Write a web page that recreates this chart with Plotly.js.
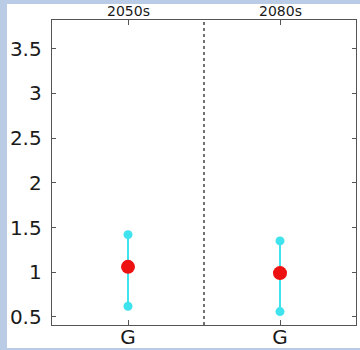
<!DOCTYPE html>
<html>
<head>
<meta charset="utf-8">
<script src="https://cdn.plot.ly/plotly-3.0.1.min.js"></script>
<style>
html,body{margin:0;padding:0;background:#fff;}
#wrap{position:relative;width:360px;height:350px;overflow:hidden;}
#chart{position:absolute;left:0;top:0;width:360px;height:350px;}
.strip{position:absolute;background:#b9cbe5;pointer-events:none;}
</style>
</head>
<body>
<div id="wrap">
<div id="chart"></div>
<div class="strip" style="left:0;top:0;width:7px;height:350px;"></div>
<div class="strip" style="left:0;top:0;width:360px;height:4px;"></div>
<div class="strip" style="left:0;top:348px;width:360px;height:2px;"></div>
</div>
<script>
var categories = ["G"];
var periods = ["2050s", "2080s"];
var lowVals = [0.62, 0.56];
var meanVals = [1.06, 0.99];
var highVals = [1.42, 1.35];
var yTicks = [0.5, 1, 1.5, 2, 2.5, 3, 3.5];
var yTickText = ["0.5", "1", "1.5", "2", "2.5", "3", "3.5"];

var cyan = "#3fe3ee";
var red = "#ee1111";
var axisColor = "#555555";
var fontFam = "'DejaVu Sans', Arial, Helvetica, sans-serif";

var traces = [];
periods.forEach(function(p, i) {
  var xa = i === 0 ? "x" : "x2";
  var ya = i === 0 ? "y" : "y2";
  traces.push({
    x: [categories[0], categories[0]],
    y: [lowVals[i], highVals[i]],
    xaxis: xa, yaxis: ya,
    mode: "lines+markers",
    line: {color: cyan, width: 2},
    marker: {color: cyan, size: 9},
    showlegend: false, hoverinfo: "skip"
  });
  traces.push({
    x: [categories[0]],
    y: [meanVals[i]],
    xaxis: xa, yaxis: ya,
    mode: "markers",
    marker: {color: red, size: 14},
    showlegend: false, hoverinfo: "skip"
  });
});

var yRange = [0.41, 3.82];
function xAxis(domain, anchor) {
  return {
    domain: domain, anchor: anchor, type: "category",
    range: [-0.5, 0.5],
    showline: true, linecolor: axisColor, linewidth: 1.3, mirror: "ticks",
    ticks: "inside", ticklen: 5, tickcolor: axisColor, tickwidth: 1,
    showgrid: false, zeroline: false,
    ticklabelstandoff: -6,
    tickfont: {family: fontFam, size: 20, color: "#1a1a1a"}
  };
}
var layout = {
  width: 360, height: 350,
  margin: {l: 52, r: 4, t: 20, b: 25, pad: 0},
  paper_bgcolor: "rgba(0,0,0,0)",
  plot_bgcolor: "#ffffff",
  xaxis: xAxis([0, 0.5], "y"),
  xaxis2: xAxis([0.5, 1], "y2"),
  yaxis: {
    domain: [0, 1], anchor: "x", range: yRange,
    tickvals: yTicks, ticktext: yTickText,
    showline: true, linecolor: axisColor, linewidth: 1.3, mirror: false,
    ticks: "inside", ticklen: 4, tickcolor: axisColor,
    showgrid: false, zeroline: false,
    tickfont: {family: fontFam, size: 20, color: "#1a1a1a"},
    ticklabelstandoff: 5
  },
  yaxis2: {
    domain: [0, 1], anchor: "x2", side: "right", range: yRange,
    tickvals: yTicks,
    showline: true, linecolor: axisColor, linewidth: 1.3, mirror: false,
    ticks: "inside", ticklen: 4, tickcolor: axisColor,
    showticklabels: false,
    showgrid: false, zeroline: false
  },
  shapes: [{
    type: "line", xref: "paper", yref: "paper",
    x0: 0.5, x1: 0.5, y0: 0, y1: 1,
    line: {color: "#444444", width: 1.5, dash: "dot"}
  }],
  annotations: periods.map(function(p, i) {
    return {
      text: p, xref: "x" + (i === 0 ? "" : "2") + " domain", yref: "paper",
      x: 0.5, y: 1, xanchor: "center", yanchor: "bottom", yshift: -1,
      showarrow: false,
      font: {family: fontFam, size: 14, color: "#1a1a1a"}
    };
  })
};
Plotly.newPlot("chart", traces, layout, {staticPlot: true, displayModeBar: false});
</script>
</body>
</html>
